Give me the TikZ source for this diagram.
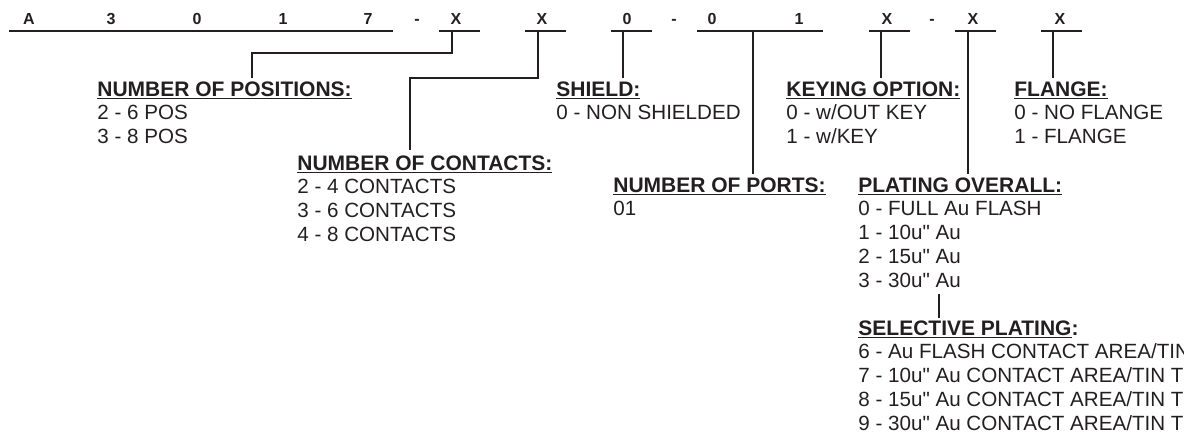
\documentclass[tikz,border=0pt]{standalone}
\usepackage{fontspec}
\setmainfont{Liberation Sans}
\usepackage{tikz}
\usetikzlibrary{positioning, calc}
\usepackage{xcolor}
\definecolor{inkgray}{RGB}{35, 31, 32}

% underlined heading, rule a little below the baseline
\newcommand{\ulhead}[1]{\setbox0\hbox{\bfseries\fontsize{10.5}{12}\selectfont #1}%
  \rlap{\rule[-1.5pt]{\wd0}{0.75pt}}\box0}
\newcommand{\inch}{\textquotedbl}

\tikzset{
  codechar/.style={font=\bfseries\fontsize{8}{9.6}\selectfont, anchor=base,
                   inner sep=0pt, text=inkgray},
  optblock/.style={anchor=north west, inner sep=0pt, align=left,
                   font=\fontsize{10.3}{11.9}\selectfont, text=inkgray},
  lead/.style={draw=inkgray, line width=0.75pt}
}

\begin{document}
\begin{tikzpicture}[x=0.5pt, y=-0.5pt]
  \useasboundingbox (0,0) rectangle (1184,435);

  % part number characters
  \foreach \ch/\xx [count=\i] in {A/29, 3/111, 0/197, 1/283, 7/368, -/417,
      X/456, X/542, 0/627, -/674, 0/712, 1/799, X/887, -/932, X/973, X/1060}
    \node[codechar] (c\i) at (\xx,24) {\ch};

  % underlines below the characters
  \foreach \a/\b in {9/393, 439/480, 525/566, 611/652, 697/823,
      869/910, 955/996, 1041/1082}
    \draw[lead] (\a,31) -- (\b,31);

  % option blocks
  \node[optblock] (positions) at (97,81) {\ulhead{NUMBER OF POSITIONS:}\\
    2 - 6 POS\\ 3 - 8 POS};
  \node[optblock] (contacts) at (297,155) {\ulhead{NUMBER OF CONTACTS:}\\
    2 - 4 CONTACTS\\ 3 - 6 CONTACTS\\ 4 - 8 CONTACTS};
  \node[optblock] (shield) at (556,81) {\ulhead{SHIELD:}\\
    0 - NON SHIELDED};
  \node[optblock] (ports) at (613,177) {\ulhead{NUMBER OF PORTS:}\\ 01};
  \node[optblock] (keying) at (786,81) {\ulhead{KEYING OPTION:}\\
    0 - w/OUT KEY\\ 1 - w/KEY};
  \node[optblock] (plating) at (858,177) {\ulhead{PLATING OVERALL:}\\
    0 - FULL Au FLASH\\ 1 - 10u\inch{} Au\\ 2 - 15u\inch{} Au\\ 3 - 30u\inch{} Au};
  \node[optblock] (flange) at (1014,81) {\ulhead{FLANGE:}\\
    0 - NO FLANGE\\ 1 - FLANGE};
  \node[optblock] (selective) at (858,320) {\ulhead{SELECTIVE PLATING}{\bfseries\fontsize{10.5}{12}\selectfont:}\\
    6 - Au FLASH CONTACT AREA/TIN\\
    7 - 10u\inch{} Au CONTACT AREA/TIN T\\
    8 - 15u\inch{} Au CONTACT AREA/TIN T\\
    9 - 30u\inch{} Au CONTACT AREA/TIN T};

  % leader ends above the headings
  \coordinate (posEnd) at (252,78);
  \coordinate (conEnd) at (410,150);
  \coordinate (shdEnd) at (623,78);
  \coordinate (prtEnd) at (753,174);
  \coordinate (keyEnd) at (881,78);
  \coordinate (plaEnd) at (968,174);
  \coordinate (flgEnd) at (1053,78);
  \coordinate (selTop) at (939,294);
  \coordinate (selEnd) at (939,318);

  % leaders
  \draw[lead] (452,31) |- (posEnd |- 0,53) -- (posEnd);
  \draw[lead] (538,31) |- (conEnd |- 0,78) -- (conEnd);
  \draw[lead] (shdEnd |- 0,31) -- (shdEnd);
  \draw[lead] (prtEnd |- 0,31) -- (prtEnd);
  \draw[lead] (keyEnd |- 0,31) -- (keyEnd);
  \draw[lead] (plaEnd |- 0,31) -- (plaEnd);
  \draw[lead] (flgEnd |- 0,31) -- (flgEnd);
  \draw[lead] (selTop) -- (selEnd);
\end{tikzpicture}
\end{document}
